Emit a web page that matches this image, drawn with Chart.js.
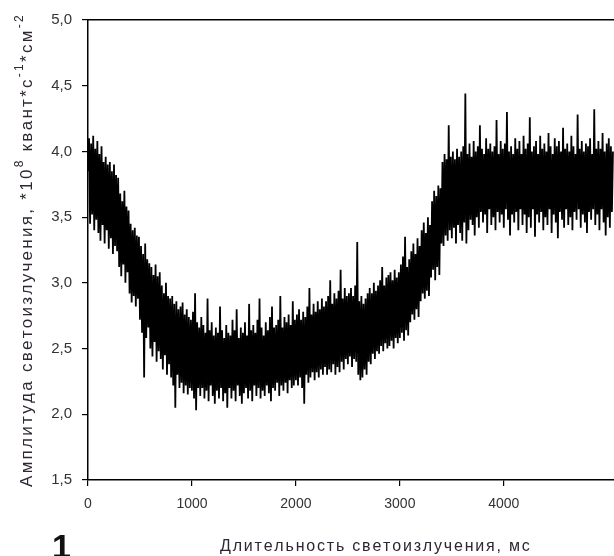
<!DOCTYPE html>
<html>
<head>
  <meta charset="UTF-8">
  <title>Амплитуда светоизлучения</title>
  <style>
    html, body {
      margin: 0;
      padding: 0;
      background: #fff;
    }
    #wrap {
      width: 614px;
      height: 556px;
    }
  </style>
  <script src="https://cdn.jsdelivr.net/npm/chart.js"></script>
</head>
<body>
  <div id="wrap">
    <canvas id="glowChart" width="614" height="556"></canvas>
  </div>

  <script>
  // one reading every 10 ms (one row = 100 ms), x10^8
  const sampleStepMs = 10;
  const amplitude = [
    3.85, 4.10, 3.45, 4.06, 3.52, 4.12, 3.40, 4.02, 3.48, 4.08,
    3.38, 3.98, 3.32, 4.04, 3.44, 3.92, 3.30, 3.96, 3.40, 3.90,
    3.26, 3.92, 3.34, 3.85, 3.22, 3.90, 3.28, 3.82, 3.24, 3.80,
    3.12, 3.68, 3.05, 3.62, 3.14, 3.70, 3.00, 3.58, 3.08, 3.55,
    2.92, 3.45, 2.85, 3.40, 2.90, 3.42, 2.82, 3.36, 2.88, 3.35,
    2.72, 3.28, 2.62, 3.22, 2.28, 3.30, 2.58, 3.18, 2.66, 3.15,
    2.50, 3.12, 2.44, 3.06, 2.55, 3.14, 2.40, 3.05, 2.48, 3.08,
    2.42, 2.98, 2.34, 2.92, 2.45, 3.00, 2.30, 2.90, 2.38, 2.88,
    2.28, 2.90, 2.22, 2.84, 2.05, 2.86, 2.30, 2.80, 2.20, 2.82,
    2.24, 2.85, 2.16, 2.76, 2.22, 2.80, 2.15, 2.74, 2.20, 2.72,
    2.18, 2.78, 2.12, 2.92, 2.03, 2.70, 2.20, 2.66, 2.14, 2.74,
    2.20, 2.68, 2.12, 2.62, 2.18, 2.88, 2.10, 2.64, 2.22, 2.70,
    2.14, 2.60, 2.08, 2.66, 2.18, 2.62, 2.12, 2.82, 2.20, 2.64,
    2.10, 2.58, 2.16, 2.68, 2.05, 2.62, 2.20, 2.60, 2.12, 2.72,
    2.18, 2.64, 2.10, 2.80, 2.22, 2.58, 2.14, 2.66, 2.08, 2.62,
    2.16, 2.70, 2.20, 2.60, 2.12, 2.84, 2.18, 2.64, 2.10, 2.68,
    2.22, 2.62, 2.14, 2.72, 2.20, 2.88, 2.12, 2.66, 2.18, 2.60,
    2.14, 2.70, 2.22, 2.64, 2.16, 2.74, 2.10, 2.82, 2.20, 2.66,
    2.18, 2.68, 2.24, 2.72, 2.14, 2.90, 2.22, 2.66, 2.18, 2.74,
    2.24, 2.70, 2.16, 2.76, 2.26, 2.68, 2.20, 2.86, 2.22, 2.72,
    2.26, 2.76, 2.22, 2.80, 2.28, 2.72, 2.20, 2.78, 2.08, 2.74,
    2.30, 2.82, 2.24, 2.96, 2.28, 2.76, 2.32, 2.84, 2.26, 2.78,
    2.32, 2.86, 2.28, 2.80, 2.34, 2.88, 2.30, 2.82, 2.36, 2.86,
    2.30, 2.90, 2.34, 3.02, 2.32, 2.84, 2.38, 2.92, 2.30, 2.88,
    2.36, 2.94, 2.32, 3.10, 2.40, 2.88, 2.34, 2.96, 2.42, 2.90,
    2.38, 2.92, 2.44, 2.96, 2.36, 2.90, 2.42, 2.98, 2.40, 3.31,
    2.30, 2.86, 2.26, 2.90, 2.28, 2.84, 2.34, 2.88, 2.30, 2.92,
    2.40, 2.96, 2.38, 2.92, 2.46, 3.00, 2.42, 2.94, 2.48, 2.98,
    2.46, 3.02, 2.52, 3.12, 2.48, 2.98, 2.54, 3.04, 2.50, 3.06,
    2.52, 3.08, 2.56, 3.02, 2.50, 3.10, 2.58, 3.04, 2.54, 3.08,
    2.58, 3.14, 2.62, 3.20, 2.56, 3.35, 2.64, 3.12, 2.60, 3.18,
    2.70, 3.24, 2.76, 3.30, 2.72, 3.22, 2.80, 3.34, 2.74, 3.28,
    2.86, 3.40, 2.92, 3.46, 2.88, 3.38, 2.94, 3.50, 2.90, 3.44,
    3.04, 3.62, 3.10, 3.70, 3.02, 3.66, 3.12, 3.74, 3.06, 3.72,
    3.30, 3.92, 3.28, 3.98, 3.36, 3.94, 3.32, 4.20, 3.40, 3.96,
    3.34, 4.00, 3.42, 3.94, 3.30, 4.02, 3.44, 3.96, 3.38, 4.00,
    3.32, 4.04, 3.46, 4.44, 3.30, 3.98, 3.40, 4.06, 3.48, 3.96,
    3.44, 4.08, 3.36, 4.00, 3.50, 4.04, 3.42, 4.20, 3.54, 4.02,
    3.46, 3.98, 3.52, 4.10, 3.38, 4.02, 3.56, 4.06, 3.44, 4.00,
    3.50, 4.04, 3.40, 4.24, 3.54, 3.98, 3.46, 4.08, 3.52, 4.02,
    3.42, 4.06, 3.56, 4.30, 3.48, 4.00, 3.36, 4.04, 3.52, 3.98,
    3.46, 4.10, 3.54, 4.02, 3.40, 4.08, 3.56, 3.98, 3.44, 4.12,
    3.52, 4.02, 3.38, 4.06, 3.50, 4.26, 3.42, 4.00, 3.56, 4.04,
    3.35, 4.08, 3.52, 3.98, 3.46, 4.12, 3.54, 4.02, 3.40, 4.06,
    3.50, 4.00, 3.44, 4.14, 3.56, 4.04, 3.38, 3.98, 3.52, 4.10,
    3.46, 4.04, 3.34, 4.08, 3.54, 4.00, 3.48, 4.18, 3.42, 4.02,
    3.56, 4.06, 3.44, 4.00, 3.50, 4.12, 3.40, 4.04, 3.54, 3.98,
    3.48, 4.28, 3.56, 4.02, 3.42, 4.08, 3.52, 4.00, 3.46, 4.06,
    3.38, 4.04, 3.54, 4.10, 3.48, 3.98, 3.56, 4.32, 3.44, 4.02,
    3.52, 4.08, 3.40, 4.02, 3.56, 4.14, 3.46, 4.00, 3.36, 4.06,
    3.50, 4.10, 3.42, 4.04, 3.54, 4.00
  ];

  const xTickValues = [0, 1000, 2000, 3000, 4000];
  const yTickValues = [1.5, 2.0, 2.5, 3.0, 3.5, 4.0, 4.5, 5.0];

  const xTitle = "Длительность светоизлучения, мс";
  // pieces of the y title, sup = raised small text
  const yTitleParts = [
    { text: "Амплитуда светоизлучения, *10" },
    { text: "8", sup: true },
    { text: " квант*с" },
    { text: "-1", sup: true },
    { text: "*см" },
    { text: "-2", sup: true }
  ];
  const panelLabel = "1";

  const FONT = '"Liberation Sans", Arial, sans-serif';
  const INK = "#2e2632";

  // draws text char by char, spread out to fill the given length
  function drawSpread(ctx, parts, x, y, length, size) {
    const big = size + "px " + FONT;
    const small = Math.round(size * 0.68) + "px " + FONT;
    let natural = 0, count = 0;
    parts.forEach(p => {
      ctx.font = p.sup ? small : big;
      natural += ctx.measureText(p.text).width;
      count += p.text.length;
    });
    const extra = count > 1 ? (length - natural) / (count - 1) : 0;
    let cx = x;
    parts.forEach(p => {
      ctx.font = p.sup ? small : big;
      for (const ch of p.text) {
        ctx.fillText(ch, cx, p.sup ? y - size * 0.42 : y);
        cx += ctx.measureText(ch).width + extra;
      }
    });
  }

  const textLayer = {
    id: "textLayer",
    afterDraw(chart) {
      const ctx = chart.ctx;
      ctx.save();
      ctx.fillStyle = INK;
      ctx.textBaseline = "middle";
      ctx.textAlign = "left";

      drawSpread(ctx, [{ text: xTitle }], 220, 547, 308, 16);

      ctx.save();
      ctx.translate(27, 487);
      ctx.rotate(-Math.PI / 2);
      drawSpread(ctx, yTitleParts, 0, 0, 470, 17);
      ctx.restore();

      ctx.fillStyle = "#111";
      ctx.textBaseline = "alphabetic";
      ctx.font = "bold 34px " + FONT;
      ctx.fillText(panelLabel, 52, 558);
      ctx.restore();
    }
  };

  const points = amplitude.map((v, i) => ({ x: i * sampleStepMs, y: v }));

  new Chart(document.getElementById("glowChart").getContext("2d"), {
    type: "line",
    data: {
      datasets: [{
        data: points,
        borderColor: "#000",
        borderWidth: 1.8,
        pointRadius: 0,
        tension: 0,
        fill: false
      }]
    },
    options: {
      responsive: false,
      animation: false,
      layout: { padding: 0 },
      plugins: {
        legend: { display: false },
        tooltip: { enabled: false }
      },
      scales: {
        x: {
          type: "linear",
          position: "bottom",
          min: 0,
          max: 5060,
          afterBuildTicks: s => { s.ticks = xTickValues.map(v => ({ value: v })); },
          afterFit: s => { s.height = 76; },
          grid: { drawOnChartArea: false, tickLength: 6, color: "#000", lineWidth: 1.2 },
          border: { display: true, color: "#000", width: 1.5 },
          ticks: {
            color: "#333",
            font: { family: FONT, size: 14 },
            padding: 10,
            maxRotation: 0,
            callback: v => String(v)
          }
        },
        xTop: {
          type: "linear",
          position: "top",
          min: 0,
          max: 5060,
          afterFit: s => { s.height = 20; },
          grid: { display: false, drawTicks: false },
          border: { display: true, color: "#000", width: 1.5 },
          ticks: { display: false }
        },
        y: {
          min: 1.5,
          max: 5.0,
          afterBuildTicks: s => { s.ticks = yTickValues.map(v => ({ value: v })); },
          afterFit: s => { s.width = 88; },
          grid: { drawOnChartArea: false, tickLength: 6, color: "#000", lineWidth: 1.2 },
          border: { display: true, color: "#000", width: 1.5 },
          ticks: {
            color: "#333",
            font: { family: FONT, size: 15 },
            padding: 10,
            callback: v => v.toFixed(1).replace(".", ",")
          }
        }
      }
    },
    plugins: [textLayer]
  });
  </script>
</body>
</html>
